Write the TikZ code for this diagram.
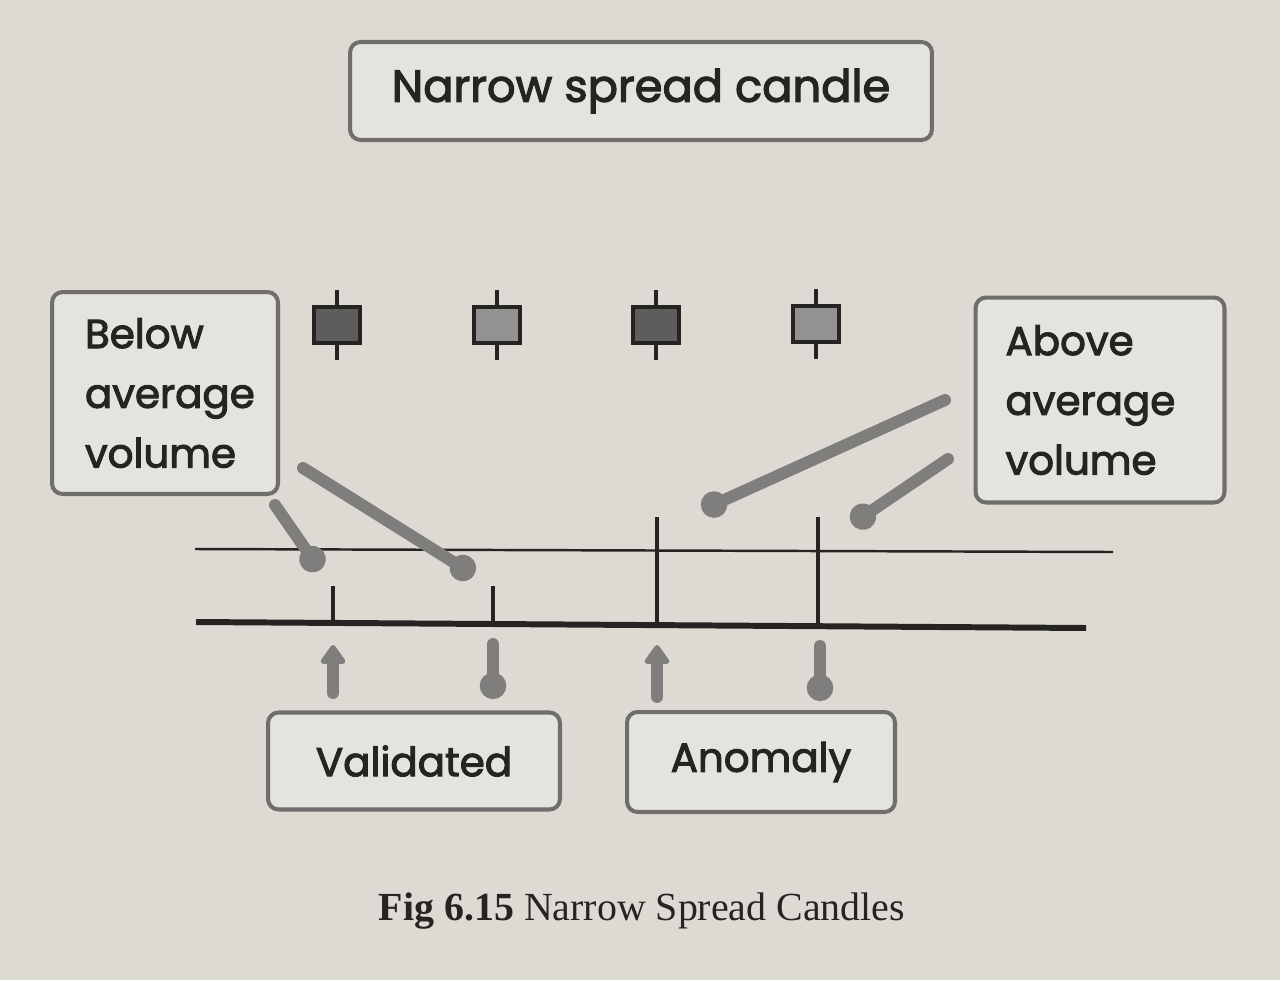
\documentclass[tikz,border=0pt]{standalone}
\usepackage{fontspec}
\setmainfont{Liberation Serif}
\newfontfamily\hand{Poppins}[FakeBold=2.5]
\usetikzlibrary{arrows.meta}
\definecolor{bg}{RGB}{221,218,212}
\definecolor{boxfill}{RGB}{229,227,222}
\definecolor{boxline}{RGB}{112,110,108}
\definecolor{ink}{RGB}{38,36,35}
\definecolor{conncol}{RGB}{128,126,124}
\definecolor{cdark}{RGB}{95,93,92}
\definecolor{clight}{RGB}{148,146,144}
\tikzset{
  lbl/.style={draw=boxline, line width=2.3pt, fill=boxfill, rounded corners=6pt, text=ink, font=\hand\fontsize{23}{34}\selectfont, inner sep=0pt},
  candle/.style={draw=ink, line width=2.3pt, minimum width=0.92cm, minimum height=0.72cm, inner sep=0pt},
  wick/.style={draw=ink, line width=2.3pt},
  vbar/.style={draw=ink, line width=2.4pt},
  conn/.style={draw=conncol, line width=6.8pt, line cap=round},
  blob/.style={conn, -{Circle[length=15pt,width=15pt]}},
  uparrow/.style={conn, -{Triangle[round,length=12pt,width=16pt]}},
}
\begin{document}
\begin{tikzpicture}[x=0.02cm,y=-0.02cm]
\fill[bg] (0,0) rectangle (1280,980);
\useasboundingbox (0,0) rectangle (1280,980);

% label boxes
\node[lbl, minimum width=11.64cm, minimum height=1.96cm, font=\hand\fontsize{25.5}{34}\selectfont] (title) at (641,91) {Narrow spread candle};
\node[lbl, minimum width=4.52cm, minimum height=4.04cm, text width=3.2cm, align=left] (below) at (165,393) {Below\\average\\volume};
\node[lbl, minimum width=4.98cm, minimum height=4.1cm, text width=3.78cm, align=left] (above) at (1100,400) {Above\\average\\volume};
\node[lbl, minimum width=5.84cm, minimum height=1.94cm] (valid) at (414,761) {Validated};
\node[lbl, minimum width=5.36cm, minimum height=2.0cm] (anom) at (761,762) {Anomaly};

% candles
\node[candle, fill=cdark] (c1) at (337,325) {};
\node[candle, fill=clight] (c2) at (497,325) {};
\node[candle, fill=cdark] (c3) at (656,325) {};
\node[candle, fill=clight] (c4) at (816,324) {};
\foreach \c in {c1,c2,c3,c4}{
  \draw[wick] (\c.north) -- ++(0,-15);
  \draw[wick] (\c.south) -- ++(0,15);
}

% volume chart
\coordinate (avgL) at (195,549);
\coordinate (avgR) at (1113,552);
\draw[ink, line width=1.4pt] (avgL) -- (avgR);
\coordinate (baseL) at (196,622);
\coordinate (baseR) at (1086,628);
\draw[ink, line width=3.4pt] (baseL) -- (baseR);
\coordinate (v1) at (333,623);
\coordinate (v2) at (493,624);
\coordinate (v3) at (657,625);
\coordinate (v4) at (818,626);
\draw[vbar] (v1) -- ++(0,-37);
\draw[vbar] (v2) -- ++(0,-38);
\draw[vbar] (v3) -- ++(0,-108);
\draw[vbar] (v4) -- ++(0,-109);

% diagonal connectors
\coordinate (d1s) at (275,505); \coordinate (d1e) at (320,570);
\coordinate (d2s) at (303,468); \coordinate (d2e) at (474,575);
\coordinate (d3s) at (945,400); \coordinate (d3e) at (702,510);
\coordinate (d4s) at (948,459); \coordinate (d4e) at (852,524);
\draw[blob] (d1s) -- (d1e);
\draw[blob] (d2s) -- (d2e);
\draw[blob] (d3s) -- (d3e);
\draw[blob] (d4s) -- (d4e);

% vertical arrows
\coordinate (u1s) at (333,693); \coordinate (u1e) at (333,645);
\coordinate (w2s) at (493,644); \coordinate (w2e) at (493,699);
\coordinate (u3s) at (657,697); \coordinate (u3e) at (657,645);
\coordinate (w4s) at (820,646); \coordinate (w4e) at (820,701);
\draw[uparrow] (u1s) -- (u1e);
\draw[blob] (w2s) -- (w2e);
\draw[uparrow] (u3s) -- (u3e);
\draw[blob] (w4s) -- (w4e);

% caption
\node[text=ink, font=\fontsize{22.7}{26}\selectfont] (cap) at (642,911) {\textbf{Fig 6.15} Narrow Spread Candles};
\end{tikzpicture}
\end{document}
